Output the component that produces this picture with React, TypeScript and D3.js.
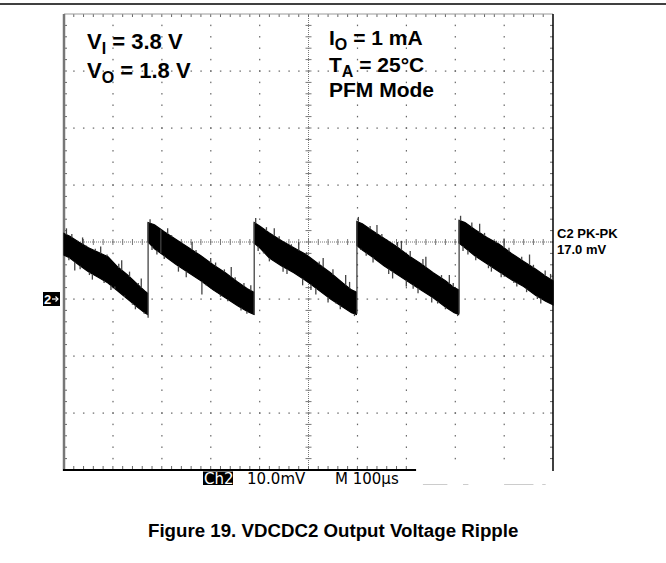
import React from 'react';
import * as d3 from 'd3';

// scope screen: 10 div x 100 us, 8 div x 10 mV, ch2 ground marker = 0 mV
const timeDomain = [0, 1000];
const voltDomain = [-30, 50];
const timeMajor = d3.range(0, 1001, 100);
const voltMajor = d3.range(-30, 51, 10);
const timeMinor = d3.range(0, 1001, 20);
const voltMinor = d3.range(-30, 51, 2);
const bottomAxisEnd = 720; // bottom frame is cut off after this time

// ramp envelopes (us, mV)
const rampT = [
  [0, 12, 30, 50, 70, 90, 110, 130, 150, 165, 171],
  [172, 185, 205, 230, 255, 280, 305, 330, 355, 375, 388],
  [389, 400, 420, 445, 470, 495, 520, 545, 570, 588, 598],
  [599, 610, 630, 655, 680, 705, 730, 755, 780, 798, 807],
  [808, 820, 840, 865, 890, 915, 940, 965, 985, 1000],
];
const rampHi = [
  [11.5, 11.0, 10.0, 9.0, 8.2, 7.4, 5.6, 4.2, 2.6, 1.4, 1.0],
  [13.4, 13.0, 11.8, 10.4, 9.0, 7.6, 6.0, 4.6, 3.0, 1.8, 1.2],
  [13.4, 12.8, 11.6, 10.2, 9.0, 7.8, 6.2, 4.6, 2.8, 1.6, 1.2],
  [13.6, 13.2, 12.0, 10.6, 9.2, 7.6, 6.2, 4.6, 3.2, 2.0, 1.6],
  [13.8, 13.4, 12.2, 10.8, 9.6, 8.0, 6.6, 5.2, 4.0, 3.2],
];
const rampLo = [
  [7.7, 7.2, 6.0, 4.8, 3.8, 2.8, 1.4, 0.0, -1.4, -2.4, -2.7],
  [10.0, 8.8, 7.6, 6.0, 4.6, 3.2, 1.6, 0.2, -1.2, -2.2, -2.7],
  [9.8, 9.0, 7.2, 5.8, 4.6, 3.2, 1.6, 0.0, -1.4, -2.4, -2.7],
  [9.4, 8.6, 7.4, 5.8, 4.4, 3.0, 1.6, 0.2, -1.4, -2.4, -2.7],
  [9.8, 9.0, 7.6, 6.2, 4.8, 3.4, 2.2, 0.6, -0.4, -1.0],
];

// switching edges
const jumpT = [172, 389, 599, 808];
const jumpFrom = [-3.3, -2.8, -2.6, -2.6];
const jumpTo = [13.4, 13.4, 13.6, 13.8];

// noise spikes sticking out of the band (us, mV)
const spikeT = [
  5, 10, 16, 22, 28, 33, 38, 45, 52, 58, 64, 75, 82, 88, 96, 104, 112, 118, 124, 134, 140, 146, 152, 158, 164,
  176, 180, 190, 198, 205, 212, 220, 234, 242, 250, 262, 270, 282, 290, 300, 310, 320, 328, 335, 342, 350, 362, 368, 374, 382,
  392, 397, 408, 414, 420, 430, 440, 448, 456, 465, 480, 488, 496, 505, 515, 522, 530, 540, 550, 556, 565, 576, 584, 594,
  602, 607, 618, 626, 632, 640, 650, 664, 672, 682, 690, 700, 708, 714, 724, 734, 740, 752, 764, 772, 780, 788, 796, 805,
  811, 816, 826, 834, 842, 850, 860, 868, 874, 884, 894, 900, 910, 920, 926, 936, 946, 952, 960, 968, 975, 984, 990, 995,
];
const spikeV = [
  12.4, 6.8, 11.4, 5.0, 10.2, 5.2, 10.8, 9.4, 4.2, 3.4, 8.8, 9.2, 2.8, 7.8, 1.6, 2.2, 6.2, 6.8, 0.6, 4.8, -1.0, -1.8, 2.8, 3.6, -2.6,
  14.0, 8.6, 7.8, 12.2, 7.0, 12.4, 11.2, 4.8, 9.8, 3.8, 10.0, 8.6, 0.8, 2.4, 7.2, 6.4, 0.4, 5.2, -0.4, 5.6, 3.8, -2.0, 2.8, -2.6, 2.4,
  14.2, 8.4, 8.0, 12.6, 6.6, 12.4, 11.0, 4.8, 4.4, 9.6, 10.0, 2.4, 8.2, 1.6, 0.8, 6.6, 7.2, -0.6, 5.2, -0.8, -1.8, 4.2, 3.0, -3.0,
  14.4, 8.6, 7.6, 12.8, 6.4, 13.0, 11.4, 4.4, 3.6, 10.0, 10.2, 2.2, 8.4, 1.8, 1.0, 7.0, 7.4, -0.6, -0.8, 4.2, -1.8, 4.2, 2.8, -3.0,
  14.6, 8.4, 7.8, 13.4, 6.8, 13.2, 11.6, 5.4, 4.8, 10.2, 3.8, 10.6, 9.0, 2.8, 2.2, 7.4, 1.2, 7.8, 6.0, 0.0, -0.8, 5.0, -0.6, 4.4,
];

// faded remnants of the scope status line (us)
const ghostStart = [734, 816, 900, 978];
const ghostEnd = [784, 827, 960, 985];

const x = d3.scaleLinear().domain(timeDomain).range([64, 553]);
const y = d3.scaleLinear().domain(voltDomain).range([470, 14]);

const sans = '"Liberation Sans", Arial, Helvetica, sans-serif';
const scopeFont = '"DejaVu Sans", sans-serif';

function envelopeAt(t: number) {
  for (let s = 0; s < rampT.length; s++) {
    const ts = rampT[s];
    if (t >= ts[0] && t <= ts[ts.length - 1]) {
      const i = Math.max(1, d3.bisectLeft(ts, t));
      const k = (t - ts[i - 1]) / (ts[i] - ts[i - 1] || 1);
      return {
        hi: rampHi[s][i - 1] + k * (rampHi[s][i] - rampHi[s][i - 1]),
        lo: rampLo[s][i - 1] + k * (rampLo[s][i] - rampLo[s][i - 1]),
      };
    }
  }
  return { hi: 0, lo: 0 };
}

export default function App() {
  const area = d3
    .area<number>()
    .x((d) => x(d))
    .curve(d3.curveLinear);

  const inner = (v: number[]) => v.slice(1, -1);
  const centerT = 500;
  const centerV = 10;
  const gy = y(0);

  return (
    <svg
      width={666}
      height={563}
      style={{ position: 'absolute', left: 0, top: 0, background: '#fff' }}
    >
      <rect width={666} height={563} fill="#fff" />
      <line x1={0} x2={666} y1={4} y2={4} stroke="#000" strokeWidth={1.5} />

      {/* dotted grid */}
      <g fill="#666">
        {inner(timeMajor)
          .filter((t) => t !== centerT)
          .map((t) =>
            inner(voltMinor).map((v) => (
              <rect key={`v${t}-${v}`} x={x(t) - 0.5} y={y(v) - 0.75} width={1.2} height={1.5} />
            ))
          )}
        {inner(voltMajor)
          .filter((v) => v !== centerV)
          .map((v) =>
            inner(timeMinor).map((t) => (
              <rect key={`h${t}-${v}`} x={x(t) - 0.6} y={y(v) - 0.5} width={1.5} height={1.2} />
            ))
          )}
      </g>

      {/* center axes with ticks */}
      <g stroke="#777" strokeWidth={1}>
        <line x1={x(0)} x2={x(1000)} y1={y(centerV)} y2={y(centerV)} strokeDasharray="1 1" />
        <line x1={x(centerT)} x2={x(centerT)} y1={y(50)} y2={y(-30)} strokeDasharray="1 1" />
        {inner(timeMinor).map((t) => (
          <line key={`ct${t}`} x1={x(t)} x2={x(t)} y1={y(centerV) - 3} y2={y(centerV) + 3} />
        ))}
        {inner(voltMinor).map((v) => (
          <line key={`cv${v}`} x1={x(centerT) - 3} x2={x(centerT) + 3} y1={y(v)} y2={y(v)} />
        ))}
      </g>

      {/* frame ticks */}
      <g stroke="#666" strokeWidth={1}>
        {inner(timeMinor).map((t) => (
          <line key={`tt${t}`} x1={x(t)} x2={x(t)} y1={y(50)} y2={y(50) + 3} />
        ))}
        {inner(timeMinor)
          .filter((t) => t < bottomAxisEnd)
          .map((t) => (
            <line key={`bt${t}`} x1={x(t)} x2={x(t)} y1={y(-30)} y2={y(-30) - 4} />
          ))}
        {inner(voltMinor).map((v) => (
          <line key={`lt${v}`} x1={x(0)} x2={x(0) + 3} y1={y(v)} y2={y(v)} />
        ))}
        {inner(voltMinor).map((v) => (
          <line key={`rt${v}`} x1={x(1000) - 3} x2={x(1000)} y1={y(v)} y2={y(v)} />
        ))}
      </g>

      {/* frame */}
      <line x1={x(0)} x2={x(1000)} y1={y(50)} y2={y(50)} stroke="#999" strokeWidth={1} />
      <line x1={x(0)} x2={x(0)} y1={y(50)} y2={y(-30) + 1} stroke="#777" strokeWidth={2.5} />
      <line x1={x(1000)} x2={x(1000)} y1={y(50)} y2={y(-30) + 1} stroke="#000" strokeWidth={1.5} />
      <line x1={x(0) - 1} x2={x(bottomAxisEnd)} y1={y(-30)} y2={y(-30)} stroke="#000" strokeWidth={2} />

      {/* trace */}
      <g>
        {rampT.map((ts, s) => (
          <path
            key={`r${s}`}
            d={
              area
                .y0((_, i) => y(rampLo[s][i]))
                .y1((_, i) => y(rampHi[s][i]))(ts) ?? ''
            }
            fill="#000"
            stroke="#000"
            strokeWidth={1.2}
          />
        ))}
        {spikeT.map((t, i) => {
          const e = envelopeAt(t);
          const from = spikeV[i] > e.hi ? e.hi : e.lo;
          return (
            <line
              key={`s${i}`}
              x1={x(t)}
              x2={x(t)}
              y1={y(from)}
              y2={y(spikeV[i])}
              stroke="#444"
              strokeWidth={1.3}
            />
          );
        })}
        {jumpT.map((t, i) => (
          <line
            key={`j${i}`}
            x1={x(t)}
            x2={x(t)}
            y1={y(jumpFrom[i])}
            y2={y(jumpTo[i])}
            stroke="#444"
            strokeWidth={1.3}
          />
        ))}
      </g>

      {/* channel 2 ground marker */}
      <rect x={43} y={gy - 7} width={17} height={14} fill="#000" />
      <text x={44} y={gy + 4.5} fill="#fff" fontFamily={sans} fontSize={13} fontWeight="bold">
        2
      </text>
      <g stroke="#fff" strokeWidth={1.2} fill="none">
        <line x1={52} x2={58} y1={gy} y2={gy} />
        <polyline points={`${55.5},${gy - 2.5} ${58},${gy} ${55.5},${gy + 2.5}`} />
      </g>

      {/* conditions */}
      <g fontFamily={sans} fontWeight="bold" fontSize={22} fill="#000">
        <text x={87} y={48.5}>
          V<tspan fontSize={16} dy={5}>I</tspan>
          <tspan dy={-5}> = 3.8 V</tspan>
        </text>
        <text x={87} y={78}>
          V<tspan fontSize={16} dy={5}>O</tspan>
          <tspan dy={-5}> = 1.8 V</tspan>
        </text>
      </g>
      <g fontFamily={sans} fontWeight="bold" fontSize={21} fill="#000">
        <text x={329} y={44.5}>
          I<tspan fontSize={16} dy={5}>O</tspan>
          <tspan dy={-5}> = 1 mA</tspan>
        </text>
        <text x={329} y={71.5}>
          T<tspan fontSize={16} dy={5}>A</tspan>
          <tspan dy={-5}> = 25°C</tspan>
        </text>
        <text x={329} y={97}>PFM Mode</text>
      </g>

      <g fontFamily={sans} fontWeight="bold" fontSize={13} fill="#000">
        <text x={557} y={238}>C2 PK-PK</text>
        <text x={557} y={254}>17.0 mV</text>
      </g>

      {/* scope status line */}
      <rect x={203} y={471.5} width={30} height={13.5} fill="#000" />
      <g fontFamily={scopeFont} fontSize={15}>
        <text x={204} y={483.5} fill="#fff">Ch2</text>
        <text x={247} y={483.5} fill="#000">10.0mV</text>
        <text x={335} y={483.5} fill="#000">M 100µs</text>
      </g>
      <g stroke="#ccc" strokeWidth={1}>
        {ghostStart.map((t, i) => (
          <line key={`g${i}`} x1={x(t)} x2={x(ghostEnd[i])} y1={484.5} y2={484.5} />
        ))}
      </g>

      <text x={148} y={537} fontFamily={sans} fontWeight="bold" fontSize={18.7} fill="#000">
        Figure 19. VDCDC2 Output Voltage Ripple
      </text>
    </svg>
  );
}
